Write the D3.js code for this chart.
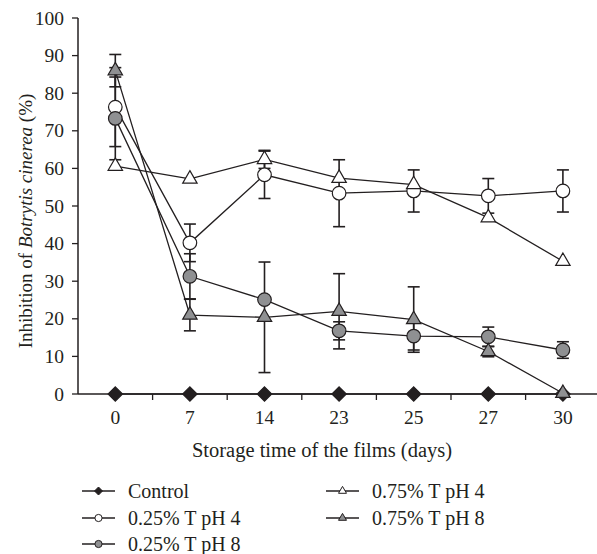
<!DOCTYPE html>
<html>
<head>
<meta charset="utf-8">
<script src="https://cdn.jsdelivr.net/npm/d3@7"></script>
<style>
  body { margin: 0; background: #fff; }
  svg text { font-family: "Liberation Serif", "Times New Roman", serif; fill: #231f20; }
</style>
</head>
<body>
<div id="mainContainer"><svg></svg></div>
<script>
const SVG_WIDTH = 597;
const SVG_HEIGHT = 554;

// data
const days = ["0", "7", "14", "23", "25", "27", "30"];
const seriesNames = ["Control", "0.25% T pH 4", "0.25% T pH 8", "0.75% T pH 4", "0.75% T pH 8"];
const control = [0, 0, 0, 0, 0, 0, 0];
const t025ph4 = [76.3, 40.2, 58.3, 53.4, 54.0, 52.7, 54.0];
const t025ph4Err = [10.5, 5.0, 6.3, 8.9, 5.6, 4.6, 5.6];
const t025ph8 = [73.3, 31.3, 25.1, 16.8, 15.4, 15.2, 11.7];
const t025ph8Err = [11.0, 6.0, 0, 2.4, 3.7, 2.6, 2.2];
const t075ph4 = [60.6, 57.2, 62.4, 57.4, 55.7, 46.9, 35.3];
const t075ph4Err = [0, 0, 2.4, 0, 0, 0, 0];
const t075ph8 = [86.0, 21.0, 20.4, 22.0, 19.8, 11.3, 0.2];
const t075ph8Err = [4.3, 4.2, 14.7, 10.0, 8.7, 1.4, 0];
const yTicks = [0, 10, 20, 30, 40, 50, 60, 70, 80, 90, 100];

const series = [
  { name: seriesNames[0], values: control, err: control, shape: "diamond", fill: "#231f20" },
  { name: seriesNames[1], values: t025ph4, err: t025ph4Err, shape: "circle", fill: "#fff" },
  { name: seriesNames[2], values: t025ph8, err: t025ph8Err, shape: "circle", fill: "#8f9092" },
  { name: seriesNames[3], values: t075ph4, err: t075ph4Err, shape: "triangle", fill: "#fff" },
  { name: seriesNames[4], values: t075ph8, err: t075ph8Err, shape: "triangle", fill: "#8f9092" }
];

const svg = d3.select('svg')
    .attr('width', SVG_WIDTH)
    .attr('height', SVG_HEIGHT);

const x = d3.scaleBand().domain(days).range([78, 78 + 7 * 74.6]);
const y = d3.scaleLinear().domain([0, 100]).range([394, 18]);
const cx = d => x(d) + x.bandwidth() / 2;

// marker path, r = rough half size
function symbolFor(shape, r) {
  if (shape === "diamond") return `M0,${-r}L${r},0L0,${r}L${-r},0Z`;
  if (shape === "circle") return d3.symbol().type(d3.symbolCircle).size(Math.PI * r * r)();
  // triangle, side 2r, centred on its centroid
  let h = r * Math.sqrt(3);
  return `M0,${-h * 2 / 3}L${r},${h / 3}L${-r},${h / 3}Z`;
}

// axes
svg.append('line').attr('x1', 78).attr('x2', 78).attr('y1', 18).attr('y2', 394)
    .attr('stroke', '#231f20').attr('stroke-width', 1.5);
svg.append('line').attr('x1', 78).attr('x2', SVG_WIDTH).attr('y1', 394).attr('y2', 394)
    .attr('stroke', '#231f20').attr('stroke-width', 1.5);

svg.selectAll('.ytick').data(yTicks).enter().append('line')
    .attr('x1', 72).attr('x2', 78)
    .attr('y1', d => y(d)).attr('y2', d => y(d))
    .attr('stroke', '#231f20').attr('stroke-width', 1.3);
svg.selectAll('.ylab').data(yTicks).enter().append('text')
    .attr('x', 64).attr('y', d => y(d) + 6.5)
    .attr('text-anchor', 'end').style('font-size', '19.5px')
    .text(d => d);

// x ticks at band edges
svg.selectAll('.xtick').data(days.slice(1)).enter().append('line')
    .attr('x1', d => x(d)).attr('x2', d => x(d))
    .attr('y1', 394).attr('y2', 400)
    .attr('stroke', '#231f20').attr('stroke-width', 1.3);
svg.selectAll('.xlab').data(days).enter().append('text')
    .attr('x', d => cx(d)).attr('y', 424)
    .attr('text-anchor', 'middle').style('font-size', '19.5px')
    .text(d => d);

svg.append('text').attr('x', 322).attr('y', 457)
    .attr('text-anchor', 'middle').style('font-size', '20.5px')
    .text('Storage time of the films (days)');

let ytitle = svg.append('text')
    .attr('transform', 'translate(32,221) rotate(-90)')
    .attr('text-anchor', 'middle').style('font-size', '19px');
ytitle.append('tspan').text('Inhibition of ');
ytitle.append('tspan').style('font-style', 'italic').text('Botrytis cinerea');
ytitle.append('tspan').text(' (%)');

// lines
const line = d3.line().x((d, i) => cx(days[i])).y(d => y(d));
series.forEach(s => {
  svg.append('path').attr('d', line(s.values))
      .attr('fill', 'none').attr('stroke', '#231f20').attr('stroke-width', 1.3);
});

// error bars
series.forEach(s => {
  s.values.forEach((v, i) => {
    let e = s.err[i];
    if (!e) return;
    let g = svg.append('g').attr('stroke', '#231f20').attr('stroke-width', 1.6);
    let px = cx(days[i]);
    g.append('line').attr('x1', px).attr('x2', px).attr('y1', y(v - e)).attr('y2', y(v + e));
    g.append('line').attr('x1', px - 6).attr('x2', px + 6).attr('y1', y(v - e)).attr('y2', y(v - e));
    g.append('line').attr('x1', px - 6).attr('x2', px + 6).attr('y1', y(v + e)).attr('y2', y(v + e));
  });
});

// markers
series.forEach(s => {
  let r = s.shape === "circle" ? 6.8 : s.shape === "triangle" ? 7.2 : 7.2;
  svg.selectAll(null).data(s.values).enter().append('path')
      .attr('d', symbolFor(s.shape, r))
      .attr('transform', (d, i) => `translate(${cx(days[i])},${y(d)})`)
      .attr('fill', s.fill).attr('stroke', '#231f20').attr('stroke-width', 1.2);
});

// legend
const legendPos = [[82, 491], [82, 518], [82, 544], [326, 491], [326, 518]];
series.forEach((s, i) => {
  let [lx, ly] = legendPos[i];
  let g = svg.append('g');
  g.append('line').attr('x1', lx).attr('x2', lx + 33).attr('y1', ly).attr('y2', ly)
      .attr('stroke', '#231f20').attr('stroke-width', 1.3);
  g.append('path').attr('d', symbolFor(s.shape, s.shape === "circle" ? 3.6 : 4))
      .attr('transform', `translate(${lx + 16.5},${ly})`)
      .attr('fill', s.fill).attr('stroke', '#231f20').attr('stroke-width', 1);
  g.append('text').attr('x', lx + 46).attr('y', ly + 6.5)
      .style('font-size', '20px').text(s.name);
});
</script>
</body>
</html>
